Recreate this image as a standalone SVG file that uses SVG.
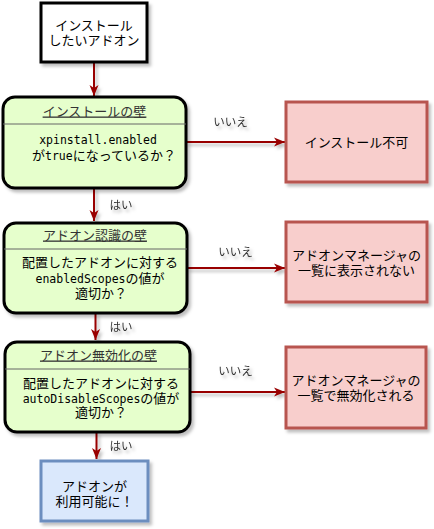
<svg xmlns="http://www.w3.org/2000/svg" width="434" height="529" viewBox="0 0 434 529">
<defs>
<filter id="sh" x="-10%" y="-10%" width="130%" height="140%">
<feDropShadow dx="2.5" dy="3" stdDeviation="1.5" flood-color="#000" flood-opacity="0.25"/>
</filter>
<marker id="arr" markerUnits="userSpaceOnUse" markerWidth="12" markerHeight="10" refX="11" refY="5" orient="auto">
<path d="M0,0.5 L11,5 L0,9.5 L3,5 Z" fill="#990000"/>
</marker>
</defs>
<style>
.t{font-family:"Noto Sans CJK JP","Noto Sans",sans-serif;font-size:13px;fill:#000;text-anchor:middle}
.mono{font-family:"DejaVu Sans Mono","Liberation Mono",monospace;font-size:11.5px}
.title{fill:#333;text-decoration:underline}
.lbl{font-family:"Noto Sans CJK JP","Noto Sans",sans-serif;font-size:11.5px;fill:#333;text-anchor:middle}
.wall{fill:#e6ffcc;stroke:#000;stroke-width:3}
.ng{fill:#f8cecc;stroke:#b85450;stroke-width:3}
.ok{fill:#dae8fc;stroke:#6c8ebf;stroke-width:3}
.start{fill:#fff;stroke:#000;stroke-width:3}
.div{stroke:#666;stroke-width:1}
.edge{stroke:#990000;stroke-width:2;fill:none;marker-end:url(#arr)}
</style>
<rect width="434" height="529" fill="#fff"/>

<g id="edges" filter="url(#sh)">
<path class="edge" d="M94 62 L94 96"/>
<path class="edge" d="M94 188 L94 221"/>
<path class="edge" d="M95.5 313 L95.5 340"/>
<path class="edge" d="M96.5 432 L96.5 459"/>
<path class="edge" d="M186 142 L285 142"/>
<path class="edge" d="M187 268 L285 268"/>
<path class="edge" d="M190 392 L285 392"/>
<text class="lbl" x="230.5" y="126">いいえ</text>
<text class="lbl" x="235.5" y="256">いいえ</text>
<text class="lbl" x="235.5" y="375">いいえ</text>
<text class="lbl" x="121" y="209">はい</text>
<text class="lbl" x="121" y="331">はい</text>
<text class="lbl" x="121" y="450">はい</text>
</g>

<g id="start">
<rect class="start" x="41" y="3" width="106" height="59" filter="url(#sh)"/>
<text class="t" x="94" y="29.5">インストール<tspan x="94" dy="15">したいアドオン</tspan></text>
</g>

<g id="wall-install">
<rect class="wall" x="3" y="97" width="183" height="91" rx="12" filter="url(#sh)"/>
<line class="div" x1="3" y1="124" x2="186" y2="124"/>
<text class="t title" x="94.5" y="115.5">インストールの壁</text>
<text class="t" x="98" y="143.5"><tspan class="mono">xpinstall.enabled</tspan><tspan x="104" dy="16">が</tspan><tspan class="mono">true</tspan>になっているか？</text>
</g>

<g id="wall-recognize">
<rect class="wall" x="4" y="223" width="183" height="90" rx="12" filter="url(#sh)"/>
<line class="div" x1="4" y1="249" x2="187" y2="249"/>
<text class="t title" x="95" y="239.5">アドオン認識の壁</text>
<text class="t" x="100" y="267">配置したアドオンに対する<tspan x="100" dy="15.5" class="mono">enabledScopes</tspan>の値が<tspan x="101" dy="15">適切か？</tspan></text>
</g>

<g id="wall-disable">
<rect class="wall" x="5" y="342" width="185" height="90" rx="12" filter="url(#sh)"/>
<line class="div" x1="5" y1="369" x2="190" y2="369"/>
<text class="t title" x="98.5" y="359.5">アドオン無効化の壁</text>
<text class="t" x="101" y="387.5">配置したアドオンに対する<tspan x="101" dy="15" class="mono">autoDisableScopes</tspan>の値が<tspan x="101" dy="14.5">適切か？</tspan></text>
</g>

<g id="ng-install">
<rect class="ng" x="286" y="102" width="141" height="80" filter="url(#sh)"/>
<text class="t" x="356.5" y="146.5">インストール不可</text>
</g>

<g id="ng-hidden">
<rect class="ng" x="286" y="222" width="141" height="80" filter="url(#sh)"/>
<text class="t" x="356.5" y="259.5">アドオンマネージャの<tspan x="356.5" dy="15">一覧に表示されない</tspan></text>
</g>

<g id="ng-disabled">
<rect class="ng" x="286" y="347" width="140" height="81" filter="url(#sh)"/>
<text class="t" x="356" y="384.5">アドオンマネージャの<tspan x="356" dy="15">一覧で無効化される</tspan></text>
</g>

<g id="ok">
<rect class="ok" x="41" y="461" width="107" height="60" filter="url(#sh)"/>
<text class="t" x="94.5" y="491">アドオンが<tspan x="94.5" dy="15">利用可能に！</tspan></text>
</g>
</svg>
